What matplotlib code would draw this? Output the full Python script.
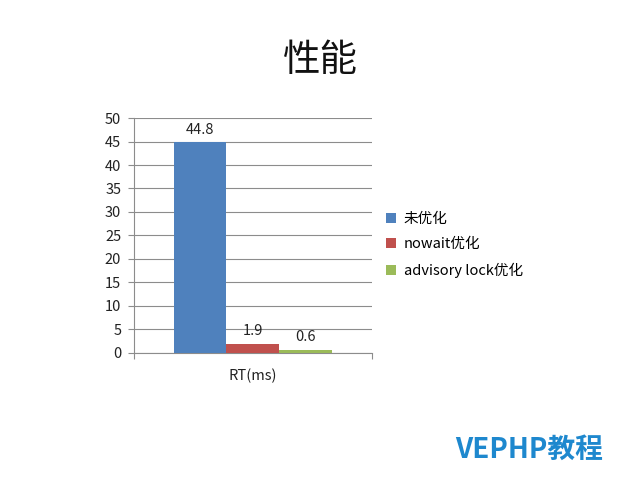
import matplotlib
import matplotlib.pyplot as plt
from matplotlib.patches import Patch

matplotlib.use("Agg")

plt.rcParams["font.family"] = ["Noto Sans CJK SC", "DejaVu Sans"]

# data
category = "RT(ms)"
series_names = ["未优化", "nowait优化", "advisory lock优化"]
series_values = [44.8, 1.9, 0.6]
series_colors = ["#4F81BD", "#C0504D", "#9BBB59"]
y_ticks = [0, 5, 10, 15, 20, 25, 30, 35, 40, 45, 50]

fig = plt.figure(figsize=(6.4, 4.8), dpi=100)
fig.patch.set_facecolor("white")
ax = fig.add_axes([0.209, 0.265, 0.372, 0.489])

bar_width = 0.221
offsets = [-bar_width, 0.0, bar_width]
for name, value, color, off in zip(series_names, series_values, series_colors, offsets):
    bars = ax.bar(0.5 + off, value, width=bar_width, color=color, label=name, zorder=3)
    ax.bar_label(bars, labels=[f"{value:g}"], padding=4, fontsize=10.5, color="#222222")

ax.set_xlim(0, 1)
ax.set_ylim(0, 50)
ax.set_yticks(y_ticks)
ax.yaxis.grid(True, color="#8c8c8c", linewidth=0.8, zorder=0)
ax.set_xticks([0, 1])
ax.set_xticklabels(["", ""])
ax.tick_params(axis="x", length=4, color="#8c8c8c")
ax.tick_params(axis="y", length=4, color="#8c8c8c", labelsize=10.5, labelcolor="#222222", pad=5)
ax.text(0.5, -0.098, category, transform=ax.transAxes, ha="center", va="center",
        fontsize=10.5, color="#222222")

for side in ["top", "right"]:
    ax.spines[side].set_visible(False)
ax.spines["left"].set_color("#8c8c8c")
ax.spines["bottom"].set_color("#8c8c8c")

handles = [Patch(facecolor=c, edgecolor="none") for c in series_colors]
fig.legend(handles, series_names, loc="center left", bbox_to_anchor=(0.583, 0.49),
           frameon=False, fontsize=10.5, handlelength=0.7, handleheight=0.7,
           handletextpad=0.5, labelspacing=0.78)

fig.text(0.5, 0.875, "性能", ha="center", va="center", fontsize=27, color="#111111")
fig.text(0.826, 0.063, "VEPHP教程", ha="center", va="center", fontsize=20,
         color="#1E88CE", fontweight="bold")

fig.savefig("out.png", dpi=100)
plt.close(fig)
